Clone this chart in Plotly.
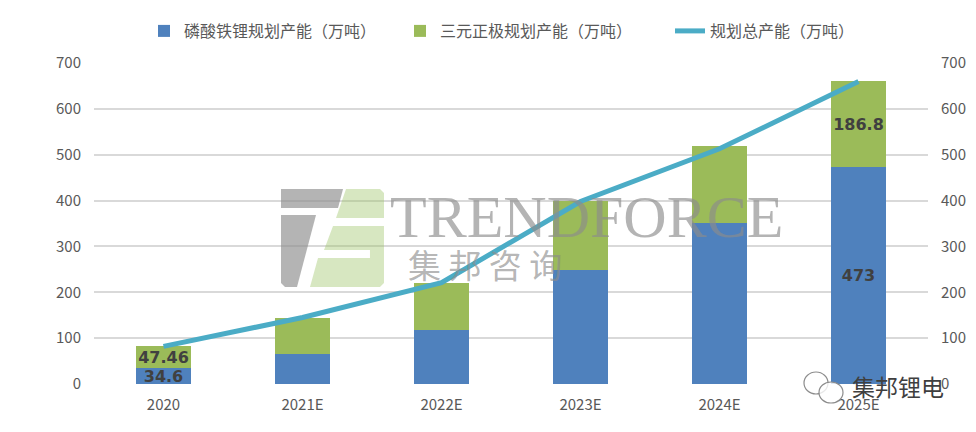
import plotly.graph_objects as go

# 数据
years = ["2020", "2021E", "2022E", "2023E", "2024E", "2025E"]
lfp_capacity = [34.6, 66, 117, 248, 352, 473]          # 磷酸铁锂规划产能（万吨）
ternary_capacity = [47.46, 79, 104, 152, 168, 186.8]    # 三元正极规划产能（万吨）
total_capacity = [82.06, 145, 221, 398, 513, 659.8]     # 规划总产能（万吨）
lfp_labels = ["34.6", "", "", "", "", "473"]
ternary_labels = ["47.46", "", "", "", "", "186.8"]
y_ticks = [0, 100, 200, 300, 400, 500, 600, 700]

BLUE = "#4F81BD"
GREEN = "#9BBB59"
TEAL = "#4BACC6"
GRID = "#D9D9D9"
TXT = "#595959"
FONT = "Noto Sans CJK SC"

# 页面 body 默认有 8px 边距，图按窗口减去边距来定尺寸
PAGE_OFF = 8
W, H = 976 - 2 * PAGE_OFF, 432 - 2 * PAGE_OFF
# 绘图区在截图中的像素位置
PX0, PX1, PY0, PY1 = 94, 928, 63, 384


def px(x):
    return (x - PX0) / (PX1 - PX0)


def py(y):
    return (PY1 - y) / (PY1 - PY0)


def poly(points):
    parts = [f"{'M' if i == 0 else 'L'} {px(x):.4f},{py(y):.4f}" for i, (x, y) in enumerate(points)]
    return " ".join(parts) + " Z"


label_font = dict(family="DejaVu Sans", size=16, color="#404040", weight="bold")

fig = go.Figure()
fig.add_trace(go.Bar(
    x=years, y=lfp_capacity, name="磷酸铁锂规划产能（万吨）", legend="legend",
    marker=dict(color=BLUE, line=dict(width=0)),
    text=lfp_labels, textposition="inside", insidetextanchor="middle",
    constraintext="none", textangle=0, textfont=label_font, hoverinfo="skip",
))
fig.add_trace(go.Bar(
    x=years, y=ternary_capacity, name="三元正极规划产能（万吨）", legend="legend2",
    marker=dict(color=GREEN, line=dict(width=0)),
    text=ternary_labels, textposition="inside", insidetextanchor="middle",
    constraintext="none", textangle=0, textfont=label_font, hoverinfo="skip",
))
fig.add_trace(go.Scatter(
    x=years, y=total_capacity, name="规划总产能（万吨）", mode="lines", legend="legend3",
    line=dict(color=TEAL, width=5), yaxis="y2", hoverinfo="skip",
))

# 水印 logo
gray = "rgba(140,140,140,0.65)"
lgreen = "rgba(155,195,100,0.4)"
shapes = [
    dict(type="path", path=poly([(281, 189), (343, 189), (338, 208), (281, 208)]),
         fillcolor=gray, line=dict(width=0), xref="paper", yref="paper"),
    dict(type="path", path=poly([(281, 215), (316, 215), (297, 287), (285, 287), (281, 283)]),
         fillcolor=gray, line=dict(width=0), xref="paper", yref="paper"),
    dict(type="path", path=poly([(346, 189), (380, 189), (384, 193), (384, 218), (336, 218)]),
         fillcolor=lgreen, line=dict(width=0), xref="paper", yref="paper"),
    dict(type="path", path=poly([(333, 226), (384, 226), (384, 283), (380, 287), (310, 287),
                                 (318, 258), (370, 258), (370, 250), (324, 250)]),
         fillcolor=lgreen, line=dict(width=0), xref="paper", yref="paper"),
    # 微信图标
    dict(type="circle", x0=px(804), x1=px(828), y0=py(394), y1=py(372),
         line=dict(color="#8C8C8C", width=1.2), fillcolor="rgba(255,255,255,0.6)",
         xref="paper", yref="paper"),
    dict(type="circle", x0=px(819), x1=px(843), y0=py(403), y1=py(382),
         line=dict(color="#8C8C8C", width=1.2), fillcolor="rgba(255,255,255,0.8)",
         xref="paper", yref="paper"),
]

annotations = [
    dict(text="TRENDFORCE", x=px(586), y=py(217), xref="paper", yref="paper",
         xanchor="center", yanchor="middle", showarrow=False,
         font=dict(family="Liberation Serif", size=60, color=gray)),
    dict(text="集 邦 咨 询", x=px(485), y=py(264), xref="paper", yref="paper",
         xanchor="center", yanchor="middle", showarrow=False,
         font=dict(family=FONT, size=33, color=gray)),
    dict(text="集邦锂电", x=px(898), y=py(386), xref="paper", yref="paper",
         xanchor="center", yanchor="middle", showarrow=False,
         font=dict(family=FONT, size=23, color="#3F3F3F")),
]

legend_y = 1.0 + (PY0 - 31) / (PY1 - PY0)
legend_common = dict(orientation="h", y=legend_y, yanchor="middle", xanchor="left",
                     font=dict(size=16, color=TXT), itemwidth=30, bgcolor="rgba(0,0,0,0)")

fig.update_layout(
    width=W, height=H,
    margin=dict(l=PX0 - PAGE_OFF, r=W + PAGE_OFF - PX1, t=PY0 - PAGE_OFF, b=H + PAGE_OFF - PY1,
                autoexpand=False),
    paper_bgcolor="white", plot_bgcolor="white",
    barmode="stack", bargap=0.6, showlegend=True,
    font=dict(family=FONT, size=15, color=TXT),
    legend=dict(x=px(144), **legend_common),
    legend2=dict(x=px(400), **legend_common),
    legend3=dict(x=px(670), **legend_common),
    xaxis=dict(tickfont=dict(size=15, color=TXT), showgrid=False, showline=False,
               ticks="", ticklabelstandoff=10, automargin=False),
    yaxis=dict(range=[0, 700], tickvals=y_ticks, showgrid=True, gridcolor=GRID, gridwidth=1.5,
               zeroline=False, showline=False, ticks="", tickfont=dict(size=15, color=TXT),
               ticklabelstandoff=12, automargin=False),
    yaxis2=dict(range=[0, 700], tickvals=y_ticks, overlaying="y", side="right", showgrid=False,
                zeroline=False, showline=False, ticks="", tickfont=dict(size=15, color=TXT),
                ticklabelstandoff=12, automargin=False),
    shapes=shapes,
    annotations=annotations,
)

fig.write_html("out.html")
